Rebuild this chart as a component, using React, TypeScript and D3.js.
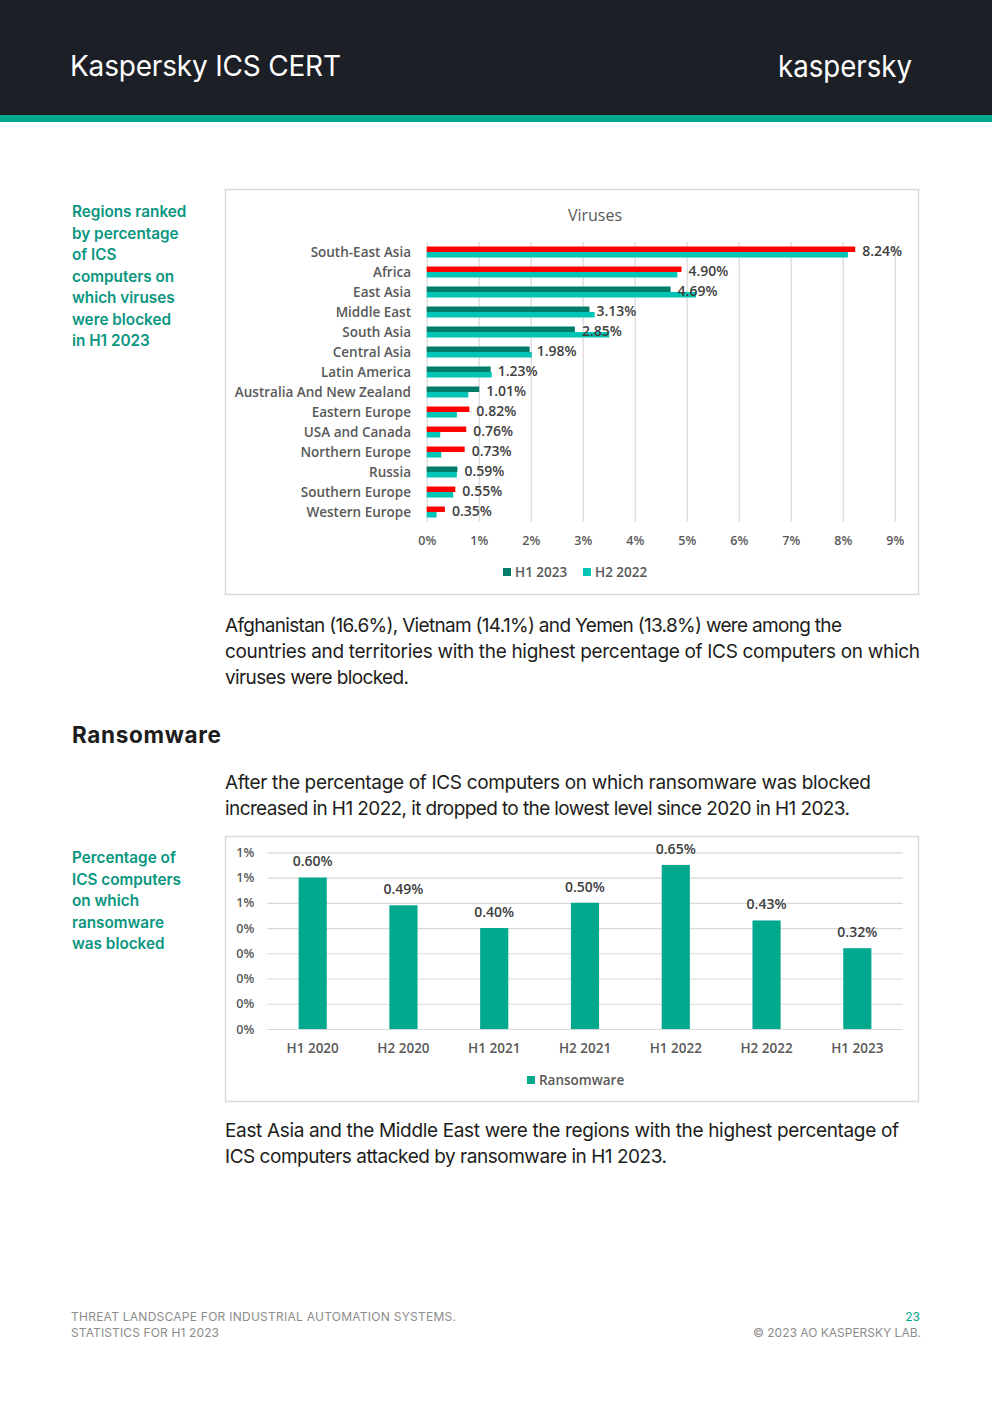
import * as React from "react";
import * as d3 from "d3";

// viruses chart, H1 2023 vs H2 2022, % of ICS computers
const regions = [
    "South-East Asia", "Africa", "East Asia", "Middle East", "South Asia",
    "Central Asia", "Latin America", "Australia And New Zealand", "Eastern Europe",
    "USA and Canada", "Northern Europe", "Russia", "Southern Europe", "Western Europe",
];
const virusesH1_2023 = [8.24, 4.90, 4.69, 3.13, 2.85, 1.98, 1.23, 1.01, 0.82, 0.76, 0.73, 0.59, 0.55, 0.35];
const virusesH2_2022 = [8.10, 4.82, 5.18, 3.23, 3.51, 2.02, 1.25, 0.80, 0.58, 0.26, 0.28, 0.58, 0.51, 0.19];
// regions whose H1 2023 bar is shown in red in the report
const highlightedRegions = [
    "South-East Asia", "Africa", "Eastern Europe", "USA and Canada",
    "Northern Europe", "Southern Europe", "Western Europe",
];
const virusTicks = [0, 1, 2, 3, 4, 5, 6, 7, 8, 9];

// ransomware chart
const periods = ["H1 2020", "H2 2020", "H1 2021", "H2 2021", "H1 2022", "H2 2022", "H1 2023"];
const ransomware = [0.60, 0.49, 0.40, 0.50, 0.65, 0.43, 0.32];
const ransomTicks = [0, 0.1, 0.2, 0.3, 0.4, 0.5, 0.6, 0.7];
const ransomTickLabels = ["0%", "0%", "0%", "0%", "0%", "1%", "1%", "1%"];

const CHART_FONT = "'Open Sans', 'Liberation Sans', sans-serif";
const TEXT_FONT = "Inter, 'Noto Sans', sans-serif";
const TEAL = "#00a88e";
const H1_COLOR = "#007c69";
const H2_COLOR = "#00c4b4";

const App: React.FC = () => {
    const virusRef = React.useRef<SVGGElement | null>(null);
    const ransomRef = React.useRef<SVGGElement | null>(null);

    React.useEffect(() => {
        if (!virusRef.current) return;
        const g = d3.select(virusRef.current);
        g.selectAll("*").remove();

        const left = 426.7, right = 894.7, top = 242, bottom = 522;
        const x = d3.scaleLinear().domain([0, 9]).range([left, right]);
        const y = d3.scaleBand().domain(regions).range([top, bottom]);
        const sub = d3.scaleBand().domain(["h1", "h2"]).range([0, y.bandwidth()])
            .paddingInner(0).paddingOuter(0.82);

        const axis = g.append("g")
            .attr("transform", `translate(0,${bottom})`)
            .call(d3.axisBottom(x).tickValues(virusTicks)
                .tickFormat(d => `${d}%`).tickSize(-(bottom - top)).tickPadding(14));
        axis.select(".domain").remove();
        axis.selectAll(".tick line").attr("stroke", "#d9d9d9").attr("stroke-width", 1.2);
        axis.selectAll(".tick text")
            .attr("fill", "#595959").attr("font-size", 12.5).attr("font-weight", 600)
            .attr("font-family", CHART_FONT);

        const rows = regions.map((r, i) => ({ r, h1: virusesH1_2023[i], h2: virusesH2_2022[i] }));

        g.selectAll(".bar-h1")
            .data(rows)
            .enter().append("rect")
            .attr("class", "bar-h1")
            .attr("x", x(0))
            .attr("y", d => y(d.r)! + sub("h1")!)
            .attr("width", d => x(d.h1) - x(0))
            .attr("height", sub.bandwidth())
            .attr("fill", d => highlightedRegions.includes(d.r) ? "#ff0000" : H1_COLOR);

        g.selectAll(".bar-h2")
            .data(rows)
            .enter().append("rect")
            .attr("class", "bar-h2")
            .attr("x", x(0))
            .attr("y", d => y(d.r)! + sub("h2")!)
            .attr("width", d => x(d.h2) - x(0))
            .attr("height", sub.bandwidth())
            .attr("fill", H2_COLOR);

        g.selectAll(".cat")
            .data(rows)
            .enter().append("text")
            .attr("class", "cat")
            .attr("x", 411)
            .attr("y", d => y(d.r)! + y.bandwidth() / 2)
            .attr("dy", "0.35em")
            .attr("text-anchor", "end")
            .attr("fill", "#595959").attr("font-size", 13.5).attr("font-weight", 600)
            .attr("font-family", CHART_FONT)
            .text(d => d.r);

        g.selectAll(".val")
            .data(rows)
            .enter().append("text")
            .attr("class", "val")
            .attr("x", d => x(d.h1) + 7)
            .attr("y", d => y(d.r)! + y.bandwidth() / 2 - 1)
            .attr("dy", "0.35em")
            .attr("fill", "#404040").attr("font-size", 14).attr("font-weight", 600)
            .attr("font-family", CHART_FONT)
            .text(d => `${d.h1.toFixed(2)}%`);

        g.append("text")
            .attr("x", 595).attr("y", 215).attr("dy", "0.35em")
            .attr("text-anchor", "middle")
            .attr("fill", "#595959").attr("font-size", 16)
            .attr("font-family", CHART_FONT)
            .text("Viruses");

        const legend = [
            { label: "H1 2023", color: H1_COLOR, x: 503 },
            { label: "H2 2022", color: H2_COLOR, x: 583 },
        ];
        const lg = g.selectAll(".legend").data(legend).enter().append("g").attr("class", "legend");
        lg.append("rect").attr("x", d => d.x).attr("y", 568).attr("width", 8).attr("height", 8)
            .attr("fill", d => d.color);
        lg.append("text").attr("x", d => d.x + 12).attr("y", 572).attr("dy", "0.35em")
            .attr("fill", "#595959").attr("font-size", 13.5).attr("font-weight", 600)
            .attr("font-family", CHART_FONT)
            .text(d => d.label);
    }, []);

    React.useEffect(() => {
        if (!ransomRef.current) return;
        const g = d3.select(ransomRef.current);
        g.selectAll("*").remove();

        const left = 267.3, right = 902.7, top = 852.3, bottom = 1029;
        const x = d3.scaleBand().domain(periods).range([left, right])
            .paddingInner(0.69).paddingOuter(0.345);
        const y = d3.scaleLinear().domain([0, 0.7]).range([bottom, top]);

        const yAxis = g.append("g")
            .attr("transform", `translate(${left},0)`)
            .call(d3.axisLeft(y).tickValues(ransomTicks)
                .tickFormat((_, i) => ransomTickLabels[i]).tickSize(-(right - left)).tickPadding(13));
        yAxis.select(".domain").remove();
        yAxis.selectAll(".tick line").attr("stroke", "#d9d9d9").attr("stroke-width", 1.2);
        yAxis.selectAll(".tick text")
            .attr("fill", "#595959").attr("font-size", 12.5).attr("font-weight", 600)
            .attr("font-family", CHART_FONT);

        const xAxis = g.append("g")
            .attr("transform", `translate(0,${bottom})`)
            .call(d3.axisBottom(x).tickSize(0).tickPadding(14));
        xAxis.select(".domain").remove();
        xAxis.selectAll(".tick text")
            .attr("fill", "#595959").attr("font-size", 13.5).attr("font-weight", 600)
            .attr("font-family", CHART_FONT);

        const rows = periods.map((p, i) => ({ p, v: ransomware[i] }));

        g.selectAll(".bar")
            .data(rows)
            .enter().append("rect")
            .attr("class", "bar")
            .attr("x", d => x(d.p)!)
            .attr("y", d => y(d.v))
            .attr("width", x.bandwidth())
            .attr("height", d => y(0) - y(d.v))
            .attr("fill", TEAL);

        g.selectAll(".val")
            .data(rows)
            .enter().append("text")
            .attr("class", "val")
            .attr("x", d => x(d.p)! + x.bandwidth() / 2)
            .attr("y", d => y(d.v) - 16)
            .attr("dy", "0.35em")
            .attr("text-anchor", "middle")
            .attr("fill", "#404040").attr("font-size", 14).attr("font-weight", 600)
            .attr("font-family", CHART_FONT)
            .text(d => `${d.v.toFixed(2)}%`);

        g.append("rect").attr("x", 527).attr("y", 1076).attr("width", 8).attr("height", 8)
            .attr("fill", TEAL);
        g.append("text").attr("x", 539).attr("y", 1080).attr("dy", "0.35em")
            .attr("fill", "#595959").attr("font-size", 13.5).attr("font-weight", 600)
            .attr("font-family", CHART_FONT)
            .text("Ransomware");
    }, []);

    const sideLines1 = ["Regions ranked", "by percentage", "of ICS", "computers on", "which viruses", "were blocked", "in H1 2023"];
    const sideLines2 = ["Percentage of", "ICS computers", "on which", "ransomware", "was blocked"];

    const para = (lines: [string, number][], y0: number) =>
        lines.map(([t, w], i) => (
            <text key={i} x={225} y={y0 + i * 26} dy="0.35em" fontSize={19} fill="#1d1d1b"
                fontFamily={TEXT_FONT} textLength={w} lengthAdjust="spacing">{t}</text>
        ));

    return (
        <div style={{ position: "absolute", left: 0, top: 0 }}>
            <svg width={992} height={1403} style={{ display: "block", background: "#fff" }}>
                <rect x={0} y={0} width={992} height={115} fill="#1d1f26" />
                <rect x={0} y={115} width={992} height={7} fill={TEAL} />
                <text x={70} y={66} dy="0.35em" fill="#fff" fontSize={28} fontFamily={TEXT_FONT}
                    textLength={271} lengthAdjust="spacing">Kaspersky ICS CERT</text>
                <text x={778} y={66} dy="0.35em" fill="#fff" fontSize={30} fontFamily={TEXT_FONT}
                    textLength={134} lengthAdjust="spacingAndGlyphs">kaspersky</text>

                {sideLines1.map((t, i) => (
                    <text key={t} x={72} y={212 + i * 21.5} dy="0.35em" fill="#0a967f" fontSize={15.3}
                        fontWeight={600} fontFamily={TEXT_FONT}>{t}</text>
                ))}

                <rect x={225.5} y={189.5} width={693} height={405} fill="none" stroke="#d9d9d9" strokeWidth={1.5} />
                <g ref={virusRef} />

                {para([
                    ["Afghanistan (16.6%), Vietnam (14.1%) and Yemen (13.8%) were among the", 617],
                    ["countries and territories with the highest percentage of ICS computers on which", 695],
                    ["viruses were blocked.", 184],
                ], 625)}

                <text x={72} y={735} dy="0.35em" fontSize={22.5} fontWeight={700} fill="#1d1d1b"
                    fontFamily={TEXT_FONT} textLength={149} lengthAdjust="spacing">Ransomware</text>

                {para([
                    ["After the percentage of ICS computers on which ransomware was blocked", 646],
                    ["increased in H1 2022, it dropped to the lowest level since 2020 in H1 2023.", 625],
                ], 782)}

                {sideLines2.map((t, i) => (
                    <text key={t} x={72} y={858 + i * 21.5} dy="0.35em" fill="#0a967f" fontSize={15.3}
                        fontWeight={600} fontFamily={TEXT_FONT}>{t}</text>
                ))}

                <rect x={225.5} y={836.5} width={693} height={265} fill="none" stroke="#d9d9d9" strokeWidth={1.5} />
                <g ref={ransomRef} />

                {para([
                    ["East Asia and the Middle East were the regions with the highest percentage of", 674],
                    ["ICS computers attacked by ransomware in H1 2023.", 442],
                ], 1130)}

                <text x={71} y={1317} dy="0.35em" fontSize={12} fill="#8c8c8c" fontFamily={TEXT_FONT}
                    textLength={385} lengthAdjust="spacing">THREAT LANDSCAPE FOR INDUSTRIAL AUTOMATION SYSTEMS.</text>
                <text x={71} y={1333} dy="0.35em" fontSize={12} fill="#8c8c8c" fontFamily={TEXT_FONT}
                    textLength={148} lengthAdjust="spacing">STATISTICS FOR H1 2023</text>
                <text x={920} y={1317} dy="0.35em" fontSize={12} fill={TEAL} fontFamily={TEXT_FONT}
                    textAnchor="end">23</text>
                <text x={921} y={1333} dy="0.35em" fontSize={12} fill="#8c8c8c" fontFamily={TEXT_FONT}
                    textAnchor="end">© 2023 AO KASPERSKY LAB.</text>
            </svg>
        </div>
    );
};

export default App;
